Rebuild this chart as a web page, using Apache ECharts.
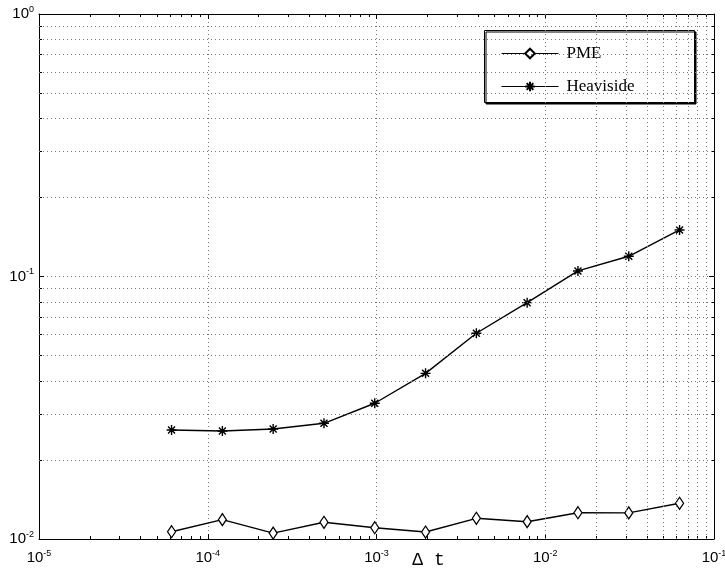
<!DOCTYPE html>
<html><head><meta charset="utf-8">
<script src="https://cdn.jsdelivr.net/npm/echarts@6/dist/echarts.min.js"></script>
<style>html,body{margin:0;padding:0;background:#fff}#c{width:725px;height:571px}</style>
</head><body><div id="c"></div>
<script>
// ---- data ----
const dt = [6.1035e-5, 1.2207e-4, 2.4414e-4, 4.8828e-4, 9.7656e-4, 1.9531e-3, 3.9063e-3, 7.8125e-3, 1.5625e-2, 3.125e-2, 6.25e-2];
const pme = [0.01066, 0.01185, 0.01053, 0.01158, 0.01104, 0.01063, 0.01199, 0.01164, 0.01259, 0.01257, 0.01368];
const heaviside = [0.02602, 0.02579, 0.02625, 0.02759, 0.03289, 0.04277, 0.0608, 0.0795, 0.1050, 0.1194, 0.1504];
const seriesNames = ['PME', 'Heaviside'];
const xDecades = [-5, -4, -3, -2];   // decades carrying minor grid lines
const yDecades = [-2, -1];
const minorMult = [2, 3, 4, 5, 6, 7, 8, 9];
const xName = 'Δ t';

// minor grid values (tick positions)
const xMinor = [], yMinor = [], xMinorLog = [], yMinorLog = [];
xDecades.forEach(d => minorMult.forEach(k => { xMinor.push(k * Math.pow(10, d)); xMinorLog.push(d + Math.log10(k)); }));
yDecades.forEach(d => minorMult.forEach(k => { yMinor.push(k * Math.pow(10, d)); yMinorLog.push(d + Math.log10(k)); }));

const gridStyle = { color: '#777', type: [1, 3], width: 1 };
const labelFmt = v => { const e = Math.round(Math.log10(v)); return '{b|10}{s|' + (e < 0 ? '-' + (-e) : e) + '}'; };
const rich = {
  b: { fontSize: 15, fontFamily: 'Liberation Sans', color: '#000' },
  s: { fontSize: 9, fontFamily: 'Liberation Sans', color: '#000', padding: [0, 0, 9, 0] }
};
const axisLineStyle = { show: true, onZero: false, lineStyle: { color: '#000', width: 1 } };

function minorAxis(pos, min, max, vals) {
  return {
    type: 'value', position: pos, min: min, max: max, gridIndex: 0,
    axisLine: { show: false, onZero: false },
    axisLabel: { show: false },
    splitLine: { show: false },
    axisTick: { show: true, inside: true, length: 3, customValues: vals, lineStyle: { color: '#000' } }
  };
}

const chart = echarts.init(document.getElementById('c'));
chart.setOption({
  animation: false,
  backgroundColor: '#fff',
  grid: { left: 39, right: 11, top: 14, bottom: 32, containLabel: false, outerBoundsMode: 'none' },
  xAxis: [
    {
      type: 'log', logBase: 10, min: 1e-5, max: 1e-1, position: 'bottom',
      axisLine: axisLineStyle,
      axisTick: { inside: true, length: 5, lineStyle: { color: '#000' } },
      axisLabel: { formatter: labelFmt, rich: rich, margin: 10 },
      splitLine: { show: true, lineStyle: gridStyle },
      name: xName, nameLocation: 'middle', nameGap: 12, nameMoveOverlap: false,
      nameTextStyle: { fontFamily: 'Liberation Mono', fontSize: 18, color: '#000', padding: [0, 0, 0, 104] }
    },
    {
      type: 'log', logBase: 10, min: 1e-5, max: 1e-1, position: 'top',
      axisLine: axisLineStyle,
      axisTick: { inside: true, length: 5, lineStyle: { color: '#000' } },
      axisLabel: { show: false }, splitLine: { show: false }
    },
    minorAxis('bottom', -5, -1, xMinorLog),
    minorAxis('top', -5, -1, xMinorLog)
  ],
  yAxis: [
    {
      type: 'log', logBase: 10, min: 1e-2, max: 1, position: 'left',
      axisLine: axisLineStyle,
      axisTick: { inside: true, length: 5, lineStyle: { color: '#000' } },
      axisLabel: { formatter: labelFmt, rich: rich, margin: 5 },
      splitLine: { show: true, lineStyle: gridStyle }
    },
    {
      type: 'log', logBase: 10, min: 1e-2, max: 1, position: 'right',
      axisLine: axisLineStyle,
      axisTick: { inside: true, length: 5, lineStyle: { color: '#000' } },
      axisLabel: { show: false }, splitLine: { show: false }
    },
    minorAxis('left', -2, 0, yMinorLog),
    minorAxis('right', -2, 0, yMinorLog)
  ],
  legend: {
    data: seriesNames, orient: 'vertical', left: 496, top: 38.5,
    itemWidth: 57, itemHeight: 12, itemGap: 13,
    lineStyle: { type: 'solid', color: '#000', width: 1, opacity: 1 },
    textStyle: { fontFamily: 'Liberation Serif', fontSize: 17, color: '#000', lineHeight: 20, padding: [0, 0, 0, 3] },
    z: 5
  },
  graphic: [{
    type: 'rect', z: 4, silent: true,
    shape: { x: 484.5, y: 30.5, width: 210, height: 72 },
    style: { fill: '#fff', stroke: '#000', lineWidth: 1, shadowColor: '#000', shadowOffsetX: 1.5, shadowOffsetY: 1.5, shadowBlur: 0 }
  }],
  series: [
    {
      name: 'minorGrid', type: 'line', xAxisIndex: 0, yAxisIndex: 0, data: [],
      markLine: {
        silent: true, symbol: 'none', label: { show: false }, animation: false,
        lineStyle: gridStyle, emphasis: { disabled: true },
        data: xMinor.map(v => ({ xAxis: v })).concat(yMinor.map(v => ({ yAxis: v })))
      }
    },
    {
      name: seriesNames[0], type: 'line', xAxisIndex: 0, yAxisIndex: 0,
      data: dt.map((x, i) => [x, pme[i]]),
      symbol: 'diamond', symbolSize: [8, 12], showAllSymbol: true,
      itemStyle: { color: '#fff', borderColor: '#000', borderWidth: 1.3 },
      lineStyle: { color: '#000', width: 1.4 }
    },
    {
      name: seriesNames[1], type: 'line', xAxisIndex: 0, yAxisIndex: 0,
      data: dt.map((x, i) => [x, heaviside[i]]),
      symbol: 'path://M5,0L5,10M0,5L10,5M1.5,1.5L8.5,8.5M1.5,8.5L8.5,1.5', symbolSize: 10, showAllSymbol: true,
      itemStyle: { color: '#000', borderColor: '#000', borderWidth: 1.4 },
      lineStyle: { color: '#000', width: 1.4 }
    }
  ]
});
</script>
</body></html>
